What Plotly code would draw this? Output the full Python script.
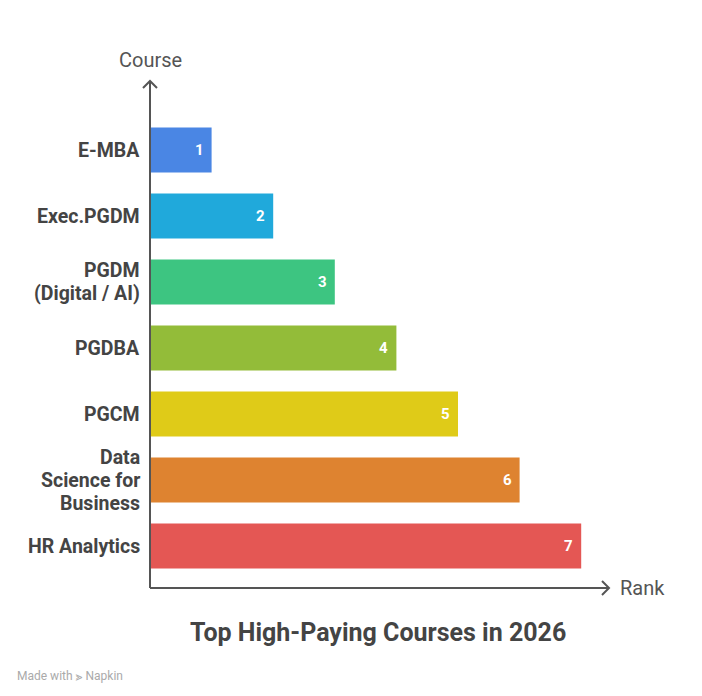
import plotly.graph_objects as go

courses = ["E-MBA", "Exec.PGDM", "PGDM<br>(Digital / AI)", "PGDBA", "PGCM",
           "Data<br>Science for<br>Business", "HR Analytics"]
ranks = [1, 2, 3, 4, 5, 6, 7]
colors = ["#4A86E4", "#20A9DB", "#3DC581", "#93BC39", "#DFCB18", "#DE8330", "#E45754"]

# page offset of the figure inside the browser (body margin)
OX, OY = 8, 8
W, H = 702 - OX, 696 - OY
L, R, T, B = 150, 610, 80, 588          # target pixel positions of axes in the window
ml, mr, mt, mb = L - OX, (W + OX) - R, T - OY, (H + OY) - B

def px(x):
    return (x - L) / (R - L)

def py(y):
    return (B - y) / (B - T)

pos = list(range(len(courses)))
FONT = "Roboto, Arial, sans-serif"
AX = "#555555"
TXT = "#444444"
LINE_H = 23

fig = go.Figure()
fig.add_trace(go.Bar(
    x=ranks, y=pos, orientation="h", width=0.68,
    marker=dict(color=colors, line=dict(width=0)),
    hoverinfo="skip",
))

ann = []
for i, (c, r) in enumerate(zip(courses, ranks)):
    parts = c.split("<br>")
    n = len(parts)
    for k, p in enumerate(parts):
        ann.append(dict(x=0, xref="paper", y=i, yref="y", text="<b>" + p + "</b>",
                        showarrow=False, xanchor="right", yanchor="middle", align="right",
                        xshift=-8, yshift=((n - 1) / 2 - k) * LINE_H,
                        font=dict(family=FONT, size=19.5, color=TXT)))
    ann.append(dict(x=r, xref="x", y=i, yref="y", text="<b>" + str(r) + "</b>",
                    showarrow=False, xanchor="right", yanchor="middle",
                    xshift=-6, font=dict(family=FONT, size=15, color="white")))

ann.append(dict(x=px(150), y=py(60), xref="paper", yref="paper", text="Course",
                showarrow=False, xanchor="center", yanchor="middle",
                font=dict(family=FONT, size=20, color=AX)))
ann.append(dict(x=px(618), y=py(588), xref="paper", yref="paper", text="Rank",
                showarrow=False, xanchor="left", yanchor="middle",
                font=dict(family=FONT, size=20, color=AX)))
ann.append(dict(x=px(378), y=py(632), xref="paper", yref="paper",
                text="<b>Top High-Paying Courses in 2026</b>",
                showarrow=False, xanchor="center", yanchor="middle",
                font=dict(family=FONT, size=25, color=TXT)))
ann.append(dict(x=px(15), y=py(676), xref="paper", yref="paper",
                text="Made with ⪢ Napkin",
                showarrow=False, xanchor="left", yanchor="middle",
                font=dict(family=FONT, size=12, color="#AAAAAA")))

line = dict(color=AX, width=2)
shapes = [
    dict(type="line", xref="paper", yref="paper", x0=px(150), y0=py(588), x1=px(150), y1=py(81), line=line),
    dict(type="path", xref="paper", yref="paper",
         path=f"M {px(143)},{py(88)} L {px(150)},{py(81)} L {px(157)},{py(88)}", line=line),
    dict(type="line", xref="paper", yref="paper", x0=px(150), y0=py(588), x1=px(609), y1=py(588), line=line),
    dict(type="path", xref="paper", yref="paper",
         path=f"M {px(602)},{py(581)} L {px(609)},{py(588)} L {px(602)},{py(595)}", line=line),
]

fig.update_layout(
    width=W, height=H,
    margin=dict(l=ml, r=mr, t=mt, b=mb, pad=0),
    paper_bgcolor="white", plot_bgcolor="white",
    showlegend=False,
    xaxis=dict(range=[0, (R - L) / 61.6], showgrid=False, zeroline=False,
               showticklabels=False, showline=False, fixedrange=True),
    yaxis=dict(range=[(B - 150) / 66, (T - 150) / 66], showgrid=False, zeroline=False,
               showticklabels=False, showline=False, fixedrange=True),
    annotations=ann, shapes=shapes,
)

fig.write_html("out.html")
